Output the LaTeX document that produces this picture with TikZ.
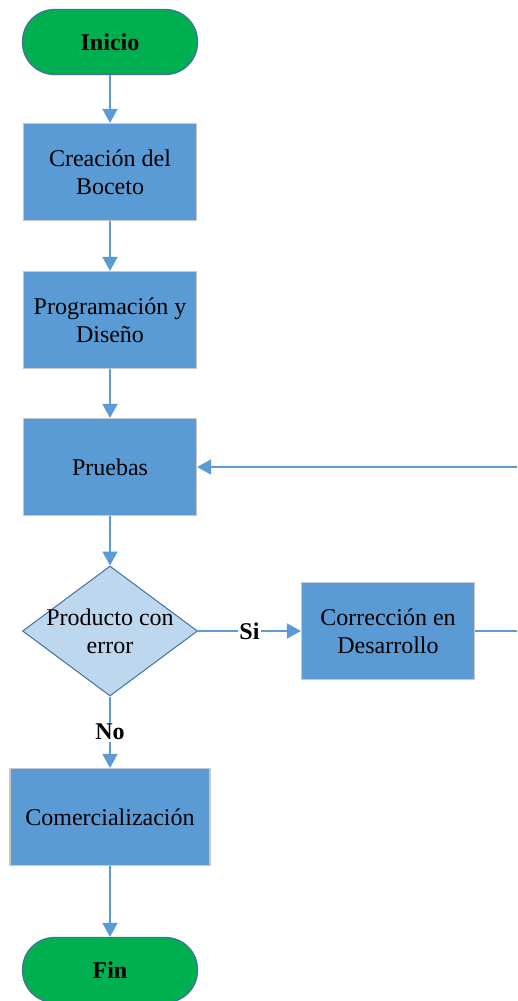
\documentclass[tikz,border=0pt]{standalone}
\usepackage{fontspec}
\setmainfont{Liberation Serif}
\usetikzlibrary{shapes.geometric,arrows.meta}
\definecolor{boxblue}{HTML}{5B9BD5}
\definecolor{startgreen}{HTML}{00B050}
\definecolor{edgeblue}{HTML}{41719C}
\definecolor{paleblue}{HTML}{BDD7EE}
\definecolor{boxedge}{HTML}{C8C8C8}
\definecolor{linkblue}{HTML}{5B9BD5}

\begin{document}
\begin{tikzpicture}[x=1pt,y=-1pt,
  txt/.style={font=\fontsize{24}{28}\selectfont, align=center},
  terminal/.style={txt, rectangle, rounded corners=32pt, fill=startgreen, draw=edgeblue,
    line width=1.2pt, minimum width=175pt, minimum height=65pt, font=\fontsize{24}{28}\selectfont\bfseries},
  process/.style={txt, rectangle, fill=boxblue, draw=boxedge, line width=1.2pt,
    minimum width=173pt, minimum height=97pt},
  decision/.style={diamond, fill=paleblue, draw=edgeblue, line width=1pt,
    minimum width=175pt, minimum height=130pt, inner sep=0pt},
  conn/.style={draw=linkblue, line width=1.8pt, -{Triangle[length=14pt,width=15pt]}},
  tag/.style={font=\fontsize{24}{28}\selectfont\bfseries, fill=white, inner sep=1.5pt}
]
\clip (0,0) rectangle (517,1001);
\fill[white] (0,0) rectangle (517,1001);

% process steps down the main column
\node[terminal] (start) at (110,42) {Inicio};
\node[process] (sketch) at (110,172) {Creación del\\Boceto};
\node[process] (code) at (110,320) {Programación y\\Diseño};
\node[process] (test) at (110,467) {Pruebas};
\node[decision] (check) at (110,631) {};
\node[txt] (checktext) at (110,631) {Producto con\\error};
\node[process] (fix) at (388,631) {Corrección en\\Desarrollo};
\node[process, minimum width=200pt] (sell) at (110,817) {Comercialización};
\node[terminal] (finish) at (110,970) {Fin};

% main flow
\draw[conn] (start) -- (sketch);
\draw[conn] (sketch) -- (code);
\draw[conn] (code) -- (test);
\draw[conn] (test) -- (check);
\draw[conn] (check) -- node[tag] {Si} (fix);
\draw[conn] (check) -- node[tag] {No} (sell);
\draw[conn] (sell) -- (finish);

% loop back from the correction step to testing
\coordinate (loopa) at (520,631);
\coordinate (loopb) at (520,467);
\draw[conn] (fix.east) -- (loopa) -- (loopb) -- (test.east);
\end{tikzpicture}
\end{document}
